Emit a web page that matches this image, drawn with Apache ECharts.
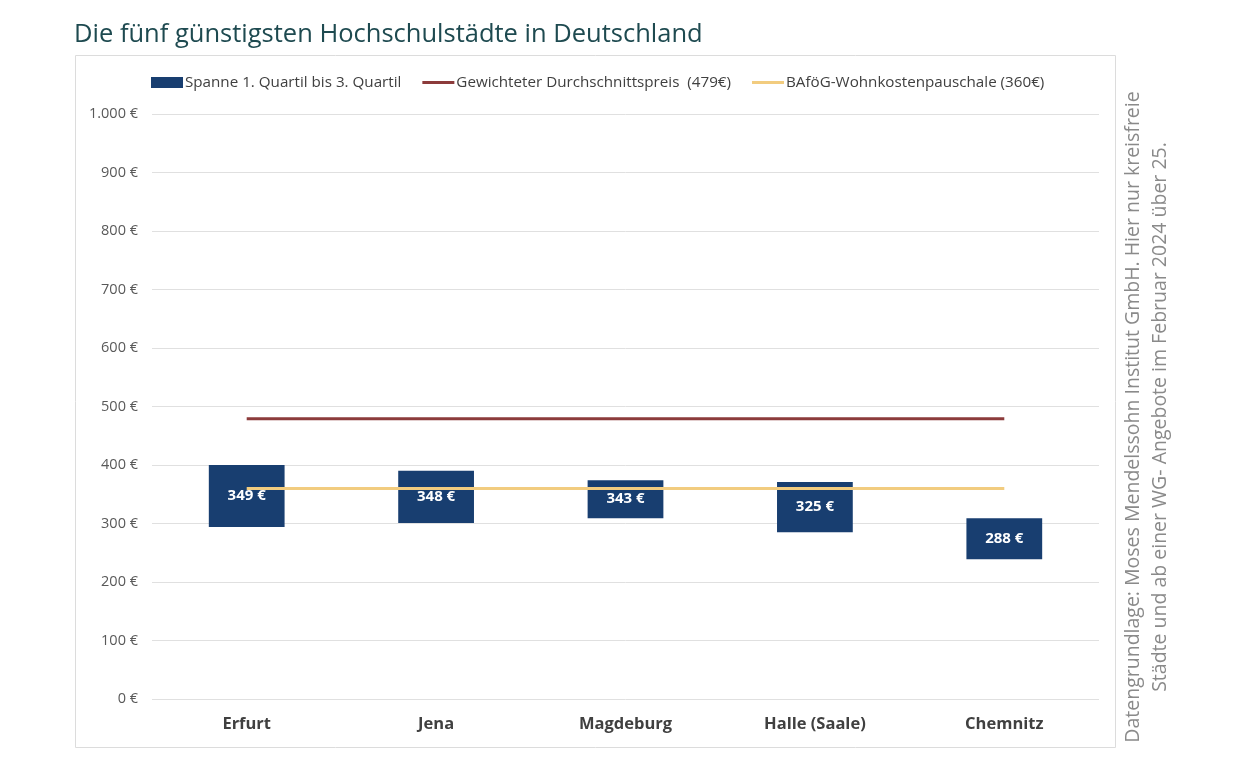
<!DOCTYPE html>
<html>
<head>
<meta charset="utf-8">
<script src="https://cdn.jsdelivr.net/npm/echarts@6/dist/echarts.min.js"></script>
<style>html,body{margin:0;padding:0;background:#fff;}#c{width:1242px;height:759px;}</style>
</head>
<body>
<div id="c"></div>
<script>
const cities = ['Erfurt', 'Jena', 'Magdeburg', 'Halle (Saale)', 'Chemnitz'];
const q1 = [294, 301, 309, 285, 239];
const q3 = [400, 390, 374, 371, 309];
const median = [349, 348, 343, 325, 288];
const avgPrice = [479, 479, 479, 479, 479];
const bafoeg = [360, 360, 360, 360, 360];
const seriesNames = ['Spanne 1. Quartil bis 3. Quartil', 'Gewichteter Durchschnittspreis  (479€)', 'BAföG-Wohnkostenpauschale (360€)'];
const titleText = 'Die fünf günstigsten Hochschulstädte in Deutschland';
const sourceLines = ['Datengrundlage: Moses Mendelssohn Institut GmbH. Hier nur kreisfreie', 'Städte und ab einer WG- Angebote im Februar 2024 über 25.'];

const range = q3.map((v, i) => v - q1[i]);
const F = '"Open Sans", "Noto Sans", sans-serif';
const lineIcon = 'path://M0,0 H32 V3 H0 Z';

const chart = echarts.init(document.getElementById('c'), null, {renderer: 'canvas'});
chart.setOption({
  animation: false,
  backgroundColor: '#fff',
  title: {
    text: titleText, left: 69, top: 17,
    textStyle: {fontFamily: F, fontSize: 25.5, fontWeight: 'normal', color: '#1e4a50'}
  },
  graphic: [
    {type: 'rect', shape: {x: 75.5, y: 55.5, width: 1040, height: 692}, style: {fill: 'none', stroke: '#dcdcdc', lineWidth: 1}, silent: true},
    {type: 'text', x: 1147, y: 417, rotation: Math.PI / 2,
     style: {text: sourceLines.join('\n'), fontFamily: F, fontSize: 19.5, lineHeight: 27, fill: '#8a8a8a', align: 'center', verticalAlign: 'middle'}, silent: true}
  ],
  legend: {
    left: 146, top: 70, itemWidth: 32, itemHeight: 11, itemGap: 21,
    data: [
      {name: seriesNames[0], icon: 'rect'},
      {name: seriesNames[1], icon: lineIcon},
      {name: seriesNames[2], icon: lineIcon}
    ],
    textStyle: {fontFamily: F, fontSize: 15.2, color: '#404040', padding: [0, 0, 0, -3]}
  },
  grid: {left: 152, right: 143, top: 114, bottom: 60, containLabel: false},
  xAxis: {
    type: 'category', data: cities, boundaryGap: true,
    axisLine: {show: false}, axisTick: {show: false},
    axisLabel: {margin: 17, fontFamily: F, fontSize: 16.5, fontWeight: 'bold', color: '#404040'}
  },
  yAxis: {
    type: 'value', min: 0, max: 1000, interval: 100,
    axisLine: {show: false}, axisTick: {show: false},
    splitLine: {lineStyle: {color: '#e0e0e0', width: 1}},
    axisLabel: {margin: 14, fontFamily: F, fontSize: 14.5, color: '#595959',
      formatter: v => (v >= 1000 ? Math.floor(v / 1000) + '.' + String(v % 1000).padStart(3, '0') : v) + ' €'}
  },
  series: [
    {name: 'base', type: 'bar', stack: 'r', data: q1, barWidth: '40%', itemStyle: {color: 'transparent'}, silent: true},
    {name: seriesNames[0], type: 'bar', stack: 'r', data: range, barWidth: '40%',
     itemStyle: {color: '#183e70'},
     label: {show: true, position: 'inside', formatter: p => median[p.dataIndex] + ' €',
       fontFamily: F, fontSize: 15, fontWeight: 'bold', color: '#fff'}},
    {name: seriesNames[1], type: 'line', data: avgPrice, symbol: 'none', z: 5,
     lineStyle: {color: '#8c3b3b', width: 3}, itemStyle: {color: '#8c3b3b'}},
    {name: seriesNames[2], type: 'line', data: bafoeg, symbol: 'none', z: 5,
     lineStyle: {color: '#f2cc7f', width: 3}, itemStyle: {color: '#f2cc7f'}}
  ]
});
</script>
</body>
</html>
